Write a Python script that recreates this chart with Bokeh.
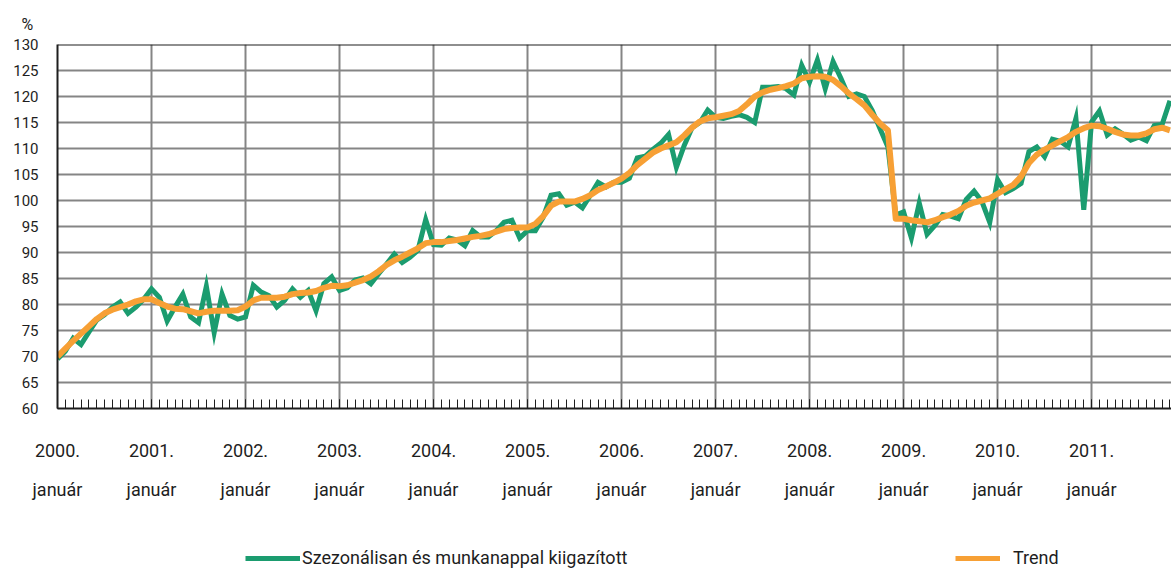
from bokeh.plotting import figure
from bokeh.layouts import column
from bokeh.models import Range1d, FixedTicker, LinearAxis, Legend, LegendItem, Span
from bokeh.embed import file_html
from bokeh.resources import INLINE

# ---- data (monthly, 2000. január onwards) ----
year_labels = ["2000.", "2001.", "2002.", "2003.", "2004.", "2005.",
               "2006.", "2007.", "2008.", "2009.", "2010.", "2011."]
month_label = "január"
y_ticks = [60, 65, 70, 75, 80, 85, 90, 95, 100, 105, 110, 115, 120, 125, 130]
series_names = ["Szezonálisan és munkanappal kiigazított", "Trend"]

seasonal = [
    69.5, 71.0, 73.5, 72.3, 74.7, 77.0, 78.0, 79.5, 80.5, 78.3, 79.5, 81.0,
    83.0, 81.4, 76.8, 79.5, 82.0, 77.6, 76.5, 83.5, 74.6, 82.0, 77.9, 77.2,
    77.6, 83.7, 82.4, 81.7, 79.5, 80.8, 83.0, 81.4, 82.7, 78.8, 84.0, 85.3,
    82.7, 83.2, 84.7, 85.1, 84.0, 85.9, 87.8, 89.7, 88.1, 89.1, 90.4, 96.3,
    91.5, 91.4, 92.8, 92.4, 91.3, 94.2, 93.0, 93.0, 94.2, 95.8, 96.2, 92.8,
    94.2, 94.2, 96.8, 101.0, 101.3, 99.1, 99.7, 98.6, 101.0, 103.5, 102.6, 103.5,
    103.5, 104.3, 108.2, 108.5, 109.8, 111.0, 112.7, 106.4, 110.6, 114.0, 115.0, 117.4,
    116.0, 115.8, 116.2, 116.5, 116.0, 115.0, 121.8, 121.8, 121.9, 121.5, 120.3, 126.0,
    122.8, 127.0, 121.5, 126.7, 123.5, 120.0, 120.5, 120.0, 117.3, 113.8, 110.3, 97.2,
    97.8, 92.8, 99.5, 93.5, 95.2, 97.3, 97.0, 96.5, 100.2, 101.8, 99.8, 95.8,
    104.0, 101.5, 102.3, 103.3, 109.4, 110.3, 108.4, 111.8, 111.4, 110.3, 115.8, 98.2,
    115.1, 117.2, 112.6, 113.8, 112.8, 111.6, 112.2, 111.5, 114.4, 114.6, 119.2,
]

trend = [
    70.0, 71.5, 73.0, 74.4, 75.8, 77.2, 78.3, 79.0, 79.5, 80.0, 80.6, 81.0,
    81.0, 80.3, 79.6, 79.2, 79.1, 78.7, 78.3, 78.6, 78.8, 78.8, 78.8, 78.9,
    79.6, 80.8, 81.3, 81.3, 81.3, 81.5, 82.0, 82.2, 82.3, 82.6, 83.2, 83.6,
    83.5, 83.7, 84.2, 84.7, 85.4, 86.4, 87.6, 88.5, 89.2, 90.0, 90.8, 91.8,
    92.0, 92.0, 92.2, 92.4, 92.7, 93.0, 93.2, 93.5, 94.0, 94.5, 94.7, 94.8,
    94.8, 95.5, 97.0, 99.0, 99.8, 99.8, 99.8, 100.3, 101.0, 102.0, 102.7, 103.4,
    104.2, 105.3, 106.8, 108.0, 109.2, 110.0, 110.6, 111.2, 112.5, 114.0, 115.2, 115.8,
    116.0, 116.3, 116.6, 117.2, 118.5, 120.0, 120.8, 121.3, 121.6, 122.0, 122.5, 123.5,
    123.8, 123.9, 123.8, 123.2, 122.0, 120.6, 119.5, 118.3, 116.5, 114.8, 113.5, 96.5,
    96.5, 96.2, 96.0, 95.8, 96.2, 96.8, 97.3, 98.0, 99.0, 99.6, 100.0, 100.4,
    101.3, 102.2, 103.0, 104.6, 107.2, 108.8, 109.8, 110.6, 111.4, 112.2, 113.2, 113.9,
    114.4, 114.3, 113.8, 113.2, 112.7, 112.5, 112.5, 112.9, 113.7, 114.0, 113.5,
]

months = list(range(len(seasonal)))
jan_ticks = [12 * k for k in range(len(year_labels))]

FONT = "Roboto"
GREEN = "#1b9c6f"
ORANGE = "#f7a035"
GRID = "#858585"
DARK = "#1e1e1e"

p = figure(width=1171, height=520, output_backend="svg", toolbar_location=None,
           x_range=Range1d(0, 142.2), y_range=Range1d(60, 130),
           min_border_left=57, min_border_right=0, min_border_top=44,
           min_border_bottom=112)
p.outline_line_color = None
p.background_fill_color = "white"

# "%" unit above the y axis
p.title.text = "%"
p.title.align = "left"
p.title.offset = -36
p.title.standoff = 22
p.title.text_font = FONT
p.title.text_font_size = "16px"
p.title.text_font_style = "normal"
p.title.text_color = DARK

# grids
p.xgrid.ticker = FixedTicker(ticks=jan_ticks)
p.ygrid.ticker = FixedTicker(ticks=y_ticks)
for g in (p.xgrid[0], p.ygrid[0]):
    g.grid_line_color = GRID
    g.grid_line_width = 2

# y axis
ya = p.yaxis[0]
ya.ticker = FixedTicker(ticks=y_ticks)
ya.major_tick_in = 0
ya.major_tick_out = 0
ya.minor_tick_in = 0
ya.minor_tick_out = 0
ya.axis_line_color = DARK
ya.axis_line_width = 2
ya.major_label_text_font = FONT
ya.major_label_text_font_size = "15px"
ya.major_label_text_color = DARK
ya.major_label_standoff = 19

# x axis: years
xa = p.xaxis[0]
xa.ticker = FixedTicker(ticks=jan_ticks, minor_ticks=months)
xa.major_label_overrides = {t: lab for t, lab in zip(jan_ticks, year_labels)}
xa.major_tick_in = 9
xa.major_tick_out = 0
xa.minor_tick_in = 9
xa.minor_tick_out = 0
xa.major_tick_line_color = DARK
xa.minor_tick_line_color = DARK
xa.major_tick_line_width = 1
xa.minor_tick_line_width = 1
xa.axis_line_color = DARK
xa.axis_line_width = 2
xa.major_label_text_font = FONT
xa.major_label_text_font_size = "18px"
xa.major_label_text_color = DARK
xa.major_label_standoff = 35

# x axis: month names
xa2 = LinearAxis(ticker=FixedTicker(ticks=jan_ticks),
                 major_label_overrides={t: month_label for t in jan_ticks},
                 axis_line_color=None, major_tick_line_color=None,
                 minor_tick_line_color=None,
                 major_label_text_font=FONT, major_label_text_font_size="18px",
                 major_label_text_color=DARK, major_label_standoff=13)
p.add_layout(xa2, "below")

# top border line
p.add_layout(Span(location=130, dimension="width", line_color=DARK, line_width=2))

p.line(months, seasonal, line_color=GREEN, line_width=5, line_join="miter")
p.line(months, trend, line_color=ORANGE, line_width=6, line_join="round")

# ---- legend strip (its lines lie outside its own view; only the legend shows) ----
lg = figure(width=1171, height=52, output_backend="svg", toolbar_location=None,
            x_range=Range1d(-2, -1), y_range=Range1d(0, 1),
            x_axis_location=None, y_axis_location=None,
            min_border_left=0, min_border_right=0, min_border_top=0, min_border_bottom=0)
lg.outline_line_color = None
lg.xgrid.visible = False
lg.ygrid.visible = False
d1 = lg.line(months, seasonal, line_color=GREEN, line_width=5)
d2 = lg.line(months, trend, line_color=ORANGE, line_width=5)

common = dict(orientation="horizontal", glyph_height=20, spacing=0, padding=0, margin=0,
              border_line_color=None, background_fill_alpha=0, label_text_font=FONT,
              label_text_font_size="18px", label_text_color=DARK)
lg.add_layout(Legend(items=[LegendItem(label=series_names[0], renderers=[d1])],
                     location=(188, 4), glyph_width=55, label_standoff=2, **common))
lg.add_layout(Legend(items=[LegendItem(label=series_names[1], renderers=[d2])],
                     location=(898, 4), glyph_width=45, label_standoff=13, **common))

layout = column(p, lg, spacing=0)
open("out.html", "w").write(file_html(layout, INLINE))
